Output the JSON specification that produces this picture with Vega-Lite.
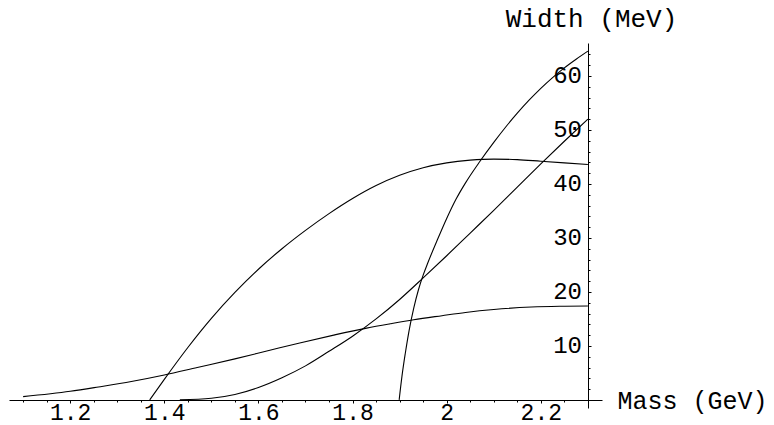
{
  "$schema": "https://vega.github.io/schema/vega-lite/v6.json",
  "width": 593,
  "height": 365,
  "autosize": {"type": "none"},
  "padding": {"left": 9, "top": 43, "right": 172, "bottom": 17},
  "background": "white",
  "config": {
    "view": {"stroke": null},
    "font": "Liberation Mono",
    "axis": {"grid": false, "domainColor": "#000", "tickColor": "#000", "labelColor": "#000", "titleColor": "#000", "labelFont": "Liberation Mono", "titleFont": "Liberation Mono", "titleFontWeight": "normal", "domainWidth": 1, "tickWidth": 1}
  },
  "data": {
    "values": [
      {"s": "A", "m": 1.10, "w": 0.6},
      {"s": "A", "m": 1.20, "w": 1.6},
      {"s": "A", "m": 1.26, "w": 2.4},
      {"s": "A", "m": 1.33, "w": 3.4},
      {"s": "A", "m": 1.40, "w": 4.6},
      {"s": "A", "m": 1.47, "w": 6.0},
      {"s": "A", "m": 1.55, "w": 7.6},
      {"s": "A", "m": 1.62, "w": 9.1},
      {"s": "A", "m": 1.69, "w": 10.6},
      {"s": "A", "m": 1.76, "w": 12.0},
      {"s": "A", "m": 1.83, "w": 13.3},
      {"s": "A", "m": 1.88, "w": 14.1},
      {"s": "A", "m": 1.93, "w": 14.85},
      {"s": "A", "m": 1.99, "w": 15.6},
      {"s": "A", "m": 2.04, "w": 16.2},
      {"s": "A", "m": 2.10, "w": 16.75},
      {"s": "A", "m": 2.18, "w": 17.2},
      {"s": "A", "m": 2.24, "w": 17.35},
      {"s": "A", "m": 2.30, "w": 17.4},
      {"s": "B", "m": 1.369, "w": 0},
      {"s": "B", "m": 1.40, "w": 3.8},
      {"s": "B", "m": 1.45, "w": 9.7},
      {"s": "B", "m": 1.50, "w": 15.1},
      {"s": "B", "m": 1.55, "w": 19.9},
      {"s": "B", "m": 1.60, "w": 24.2},
      {"s": "B", "m": 1.65, "w": 28.0},
      {"s": "B", "m": 1.70, "w": 31.4},
      {"s": "B", "m": 1.75, "w": 34.5},
      {"s": "B", "m": 1.80, "w": 37.3},
      {"s": "B", "m": 1.85, "w": 39.7},
      {"s": "B", "m": 1.90, "w": 41.6},
      {"s": "B", "m": 1.95, "w": 43.0},
      {"s": "B", "m": 2.00, "w": 43.9},
      {"s": "B", "m": 2.05, "w": 44.4},
      {"s": "B", "m": 2.10, "w": 44.6},
      {"s": "B", "m": 2.15, "w": 44.5},
      {"s": "B", "m": 2.20, "w": 44.2},
      {"s": "B", "m": 2.25, "w": 43.9},
      {"s": "B", "m": 2.30, "w": 43.6},
      {"s": "C", "m": 1.433, "w": 0},
      {"s": "C", "m": 1.50, "w": 0.3},
      {"s": "C", "m": 1.55, "w": 1.0},
      {"s": "C", "m": 1.60, "w": 2.3},
      {"s": "C", "m": 1.65, "w": 4.1},
      {"s": "C", "m": 1.70, "w": 6.3},
      {"s": "C", "m": 1.75, "w": 9.0},
      {"s": "C", "m": 1.80, "w": 11.8},
      {"s": "C", "m": 1.85, "w": 15.0},
      {"s": "C", "m": 1.90, "w": 18.6},
      {"s": "C", "m": 1.95, "w": 22.6},
      {"s": "C", "m": 2.00, "w": 26.7},
      {"s": "C", "m": 2.05, "w": 30.9},
      {"s": "C", "m": 2.10, "w": 35.1},
      {"s": "C", "m": 2.15, "w": 39.4},
      {"s": "C", "m": 2.20, "w": 43.7},
      {"s": "C", "m": 2.25, "w": 47.9},
      {"s": "C", "m": 2.30, "w": 52.0},
      {"s": "D", "m": 1.899, "w": 0},
      {"s": "D", "m": 1.905, "w": 4.4},
      {"s": "D", "m": 1.912, "w": 8.6},
      {"s": "D", "m": 1.92, "w": 12.8},
      {"s": "D", "m": 1.93, "w": 17.0},
      {"s": "D", "m": 1.94, "w": 20.4},
      {"s": "D", "m": 1.95, "w": 23.1},
      {"s": "D", "m": 1.96, "w": 25.4},
      {"s": "D", "m": 1.98, "w": 29.6},
      {"s": "D", "m": 2.00, "w": 33.6},
      {"s": "D", "m": 2.02, "w": 37.2},
      {"s": "D", "m": 2.04, "w": 40.2},
      {"s": "D", "m": 2.07, "w": 44.1},
      {"s": "D", "m": 2.10, "w": 47.7},
      {"s": "D", "m": 2.125, "w": 50.5},
      {"s": "D", "m": 2.15, "w": 53.1},
      {"s": "D", "m": 2.175, "w": 55.5},
      {"s": "D", "m": 2.20, "w": 57.7},
      {"s": "D", "m": 2.225, "w": 59.7},
      {"s": "D", "m": 2.25, "w": 61.5},
      {"s": "D", "m": 2.275, "w": 63.1},
      {"s": "D", "m": 2.30, "w": 64.6}
    ]
  },
  "mark": {"type": "line", "color": "#000", "strokeWidth": 1.1, "interpolate": "monotone"},
  "encoding": {
    "detail": {"field": "s"},
    "x": {
      "field": "m", "type": "quantitative",
      "scale": {"domain": [1.07, 2.33], "nice": false, "zero": false},
      "axis": {
        "orient": "bottom",
        "offset": -8,
        "values": [1.1, 1.15, 1.2, 1.25, 1.3, 1.35, 1.4, 1.45, 1.5, 1.55, 1.6, 1.65, 1.7, 1.75, 1.8, 1.85, 1.9, 1.95, 2.0, 2.05, 2.1, 2.15, 2.2, 2.25],
        "labelExpr": "abs(datum.value*5 - round(datum.value*5)) < 0.001 ? format(datum.value, '~g') : ''",
        "tickSize": {"condition": {"test": "abs(datum.value*5 - round(datum.value*5)) < 0.001", "value": 3}, "value": 2},
        "labelFontSize": 23,
        "labelBaseline": "top",
        "labelPadding": -1.5,
        "labelOverlap": false,
        "labelFlush": false,
        "title": "Mass (GeV)",
        "titleFontSize": 25,
        "titleX": 608,
        "titleY": 0,
        "titleAlign": "left",
        "titleBaseline": "middle",
        "titleAngle": 0
      }
    },
    "y": {
      "field": "w", "type": "quantitative",
      "scale": {"domain": [-1.5, 66.1], "nice": false, "zero": false},
      "axis": {
        "orient": "right",
        "offset": -14,
        "values": [2, 4, 6, 8, 10, 12, 14, 16, 18, 20, 22, 24, 26, 28, 30, 32, 34, 36, 38, 40, 42, 44, 46, 48, 50, 52, 54, 56, 58, 60, 62, 64],
        "labelExpr": "datum.value % 10 == 0 ? datum.value : ''",
        "tickSize": {"condition": {"test": "datum.value % 10 == 0", "value": 3}, "value": 2},
        "labelFontSize": 24,
        "labelAlign": "right",
        "labelBaseline": "middle",
        "labelPadding": -9.5,
        "labelOverlap": false,
        "labelFlush": false,
        "title": "Width (MeV)",
        "titleFontSize": 26,
        "titleAngle": 0,
        "titleX": 3,
        "titleY": -17,
        "titleAlign": "center",
        "titleBaseline": "alphabetic"
      }
    }
  }
}
